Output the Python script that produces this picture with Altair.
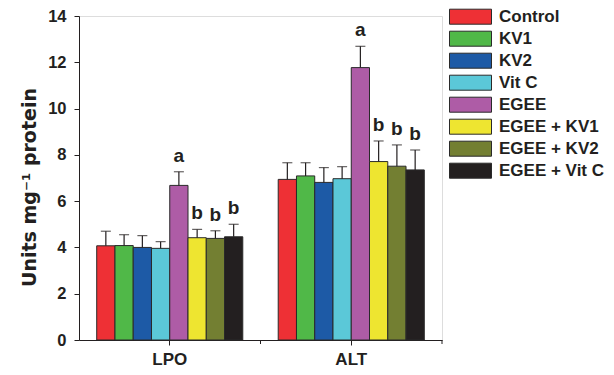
import altair as alt
import pandas as pd

params = ["LPO", "ALT"]
groups = ["Control", "KV1", "KV2", "Vit C", "EGEE", "EGEE + KV1", "EGEE + KV2", "EGEE + Vit C"]
colors = ["#EE3035", "#50B848", "#1D5AA6", "#5BC8D8", "#AE5CA6", "#EEE530", "#737F32", "#231F20"]

lpo_mean = [4.07, 4.08, 4.00, 3.96, 6.68, 4.42, 4.39, 4.46]
lpo_sd = [0.63, 0.47, 0.51, 0.29, 0.59, 0.36, 0.33, 0.54]
alt_mean = [6.94, 7.09, 6.81, 6.97, 11.77, 7.71, 7.51, 7.35]
alt_sd = [0.72, 0.57, 0.64, 0.52, 0.92, 0.89, 0.92, 0.86]
letters = ["", "", "", "", "a", "b", "b", "b"]

rows = []
for p, means, sds in [("LPO", lpo_mean, lpo_sd), ("ALT", alt_mean, alt_sd)]:
    for g, m, s, l in zip(groups, means, sds, letters):
        rows.append({"param": p, "group": g, "mean": m, "top": m + s, "letter": l})
df = pd.DataFrame(rows)

FONT = "Liberation Sans"

x_enc = alt.X("param:N", sort=params, title=None,
              scale=alt.Scale(paddingInner=0, paddingOuter=0),
              axis=alt.Axis(labelAngle=0, labelFont=FONT, labelFontSize=17, labelFontWeight="bold",
                            labelColor="#231F20", tickSize=5, tickColor="#231F20", domainColor="#231F20",
                            labelPadding=6, domainWidth=1, tickWidth=1))
xo_enc = alt.XOffset("group:N", sort=groups, scale=alt.Scale(paddingInner=0, paddingOuter=0.97))
y_scale = alt.Scale(domain=[0, 14], nice=False)

base = alt.Chart(df)

bars = base.mark_bar(stroke="#2a2a2a", strokeWidth=1, opacity=1).encode(
    x=x_enc,
    xOffset=xo_enc,
    y=alt.Y("mean:Q", scale=y_scale, title="Units mg⁻¹ protein",
            axis=alt.Axis(values=list(range(0, 15)), grid=False,
                          labelExpr="datum.value % 2 === 0 ? datum.label : ''",
                          tickSize={"condition": {"test": "datum.value % 2 === 0", "value": 5}, "value": 3},
                          labelFont=FONT, labelFontSize=16.5, labelFontWeight="bold", labelColor="#231F20",
                          labelPadding=8, tickColor="#231F20", domainColor="#231F20",
                          titleFont="DejaVu Sans", titleFontSize=19, titleFontWeight="bold", titleColor="#231F20",
                          titleX=-50, titleY=171, titleAngle=270, titleBaseline="middle", titleAlign="center")),
    color=alt.Color("group:N", sort=groups, scale=alt.Scale(domain=groups, range=colors),
                    legend=alt.Legend(title=None, orient="none", legendX=370, legendY=-10,
                                      symbolType="M-1,-0.357L1,-0.357L1,0.357L-1,0.357Z",
                                      symbolSize=1764, symbolStrokeColor="#2a2a2a", symbolStrokeWidth=1,
                                      symbolOpacity=1, clipHeight=21.4, rowPadding=0, padding=0,
                                      labelOffset=7, labelFont=FONT, labelFontSize=17,
                                      labelFontWeight="bold", labelColor="#231F20", labelLimit=200)),
)

err = base.mark_rule(color="#231F20", strokeWidth=1.2).encode(
    x=alt.X("param:N", sort=params), xOffset=xo_enc,
    y=alt.Y("mean:Q", scale=y_scale), y2="top:Q")

caps = base.mark_tick(color="#231F20", thickness=1.2, size=10).encode(
    x=alt.X("param:N", sort=params), xOffset=xo_enc,
    y=alt.Y("top:Q", scale=y_scale))

text = base.transform_filter("datum.letter != ''").mark_text(
    font=FONT, fontSize=19, fontWeight="bold", color="#231F20", baseline="alphabetic", dy=-10
).encode(
    x=alt.X("param:N", sort=params), xOffset=xo_enc,
    y=alt.Y("top:Q", scale=y_scale), text="letter:N")

minor = alt.Chart(pd.DataFrame({"param": params})).mark_rule(color="#231F20", strokeWidth=1).encode(
    x=alt.X("param:N", sort=params, bandPosition=1),
    y=alt.value(324), y2=alt.value(328))

chart = alt.layer(bars, err, caps, text, minor).properties(
    width=363, height=324,
    autosize=alt.AutoSizeParams(type="none"),
    padding={"left": 79, "top": 16, "right": 172, "bottom": 35},
).configure_view(stroke=None).configure(background="white")

chart.save("out.html", embed_options={"renderer": "svg", "actions": False})
